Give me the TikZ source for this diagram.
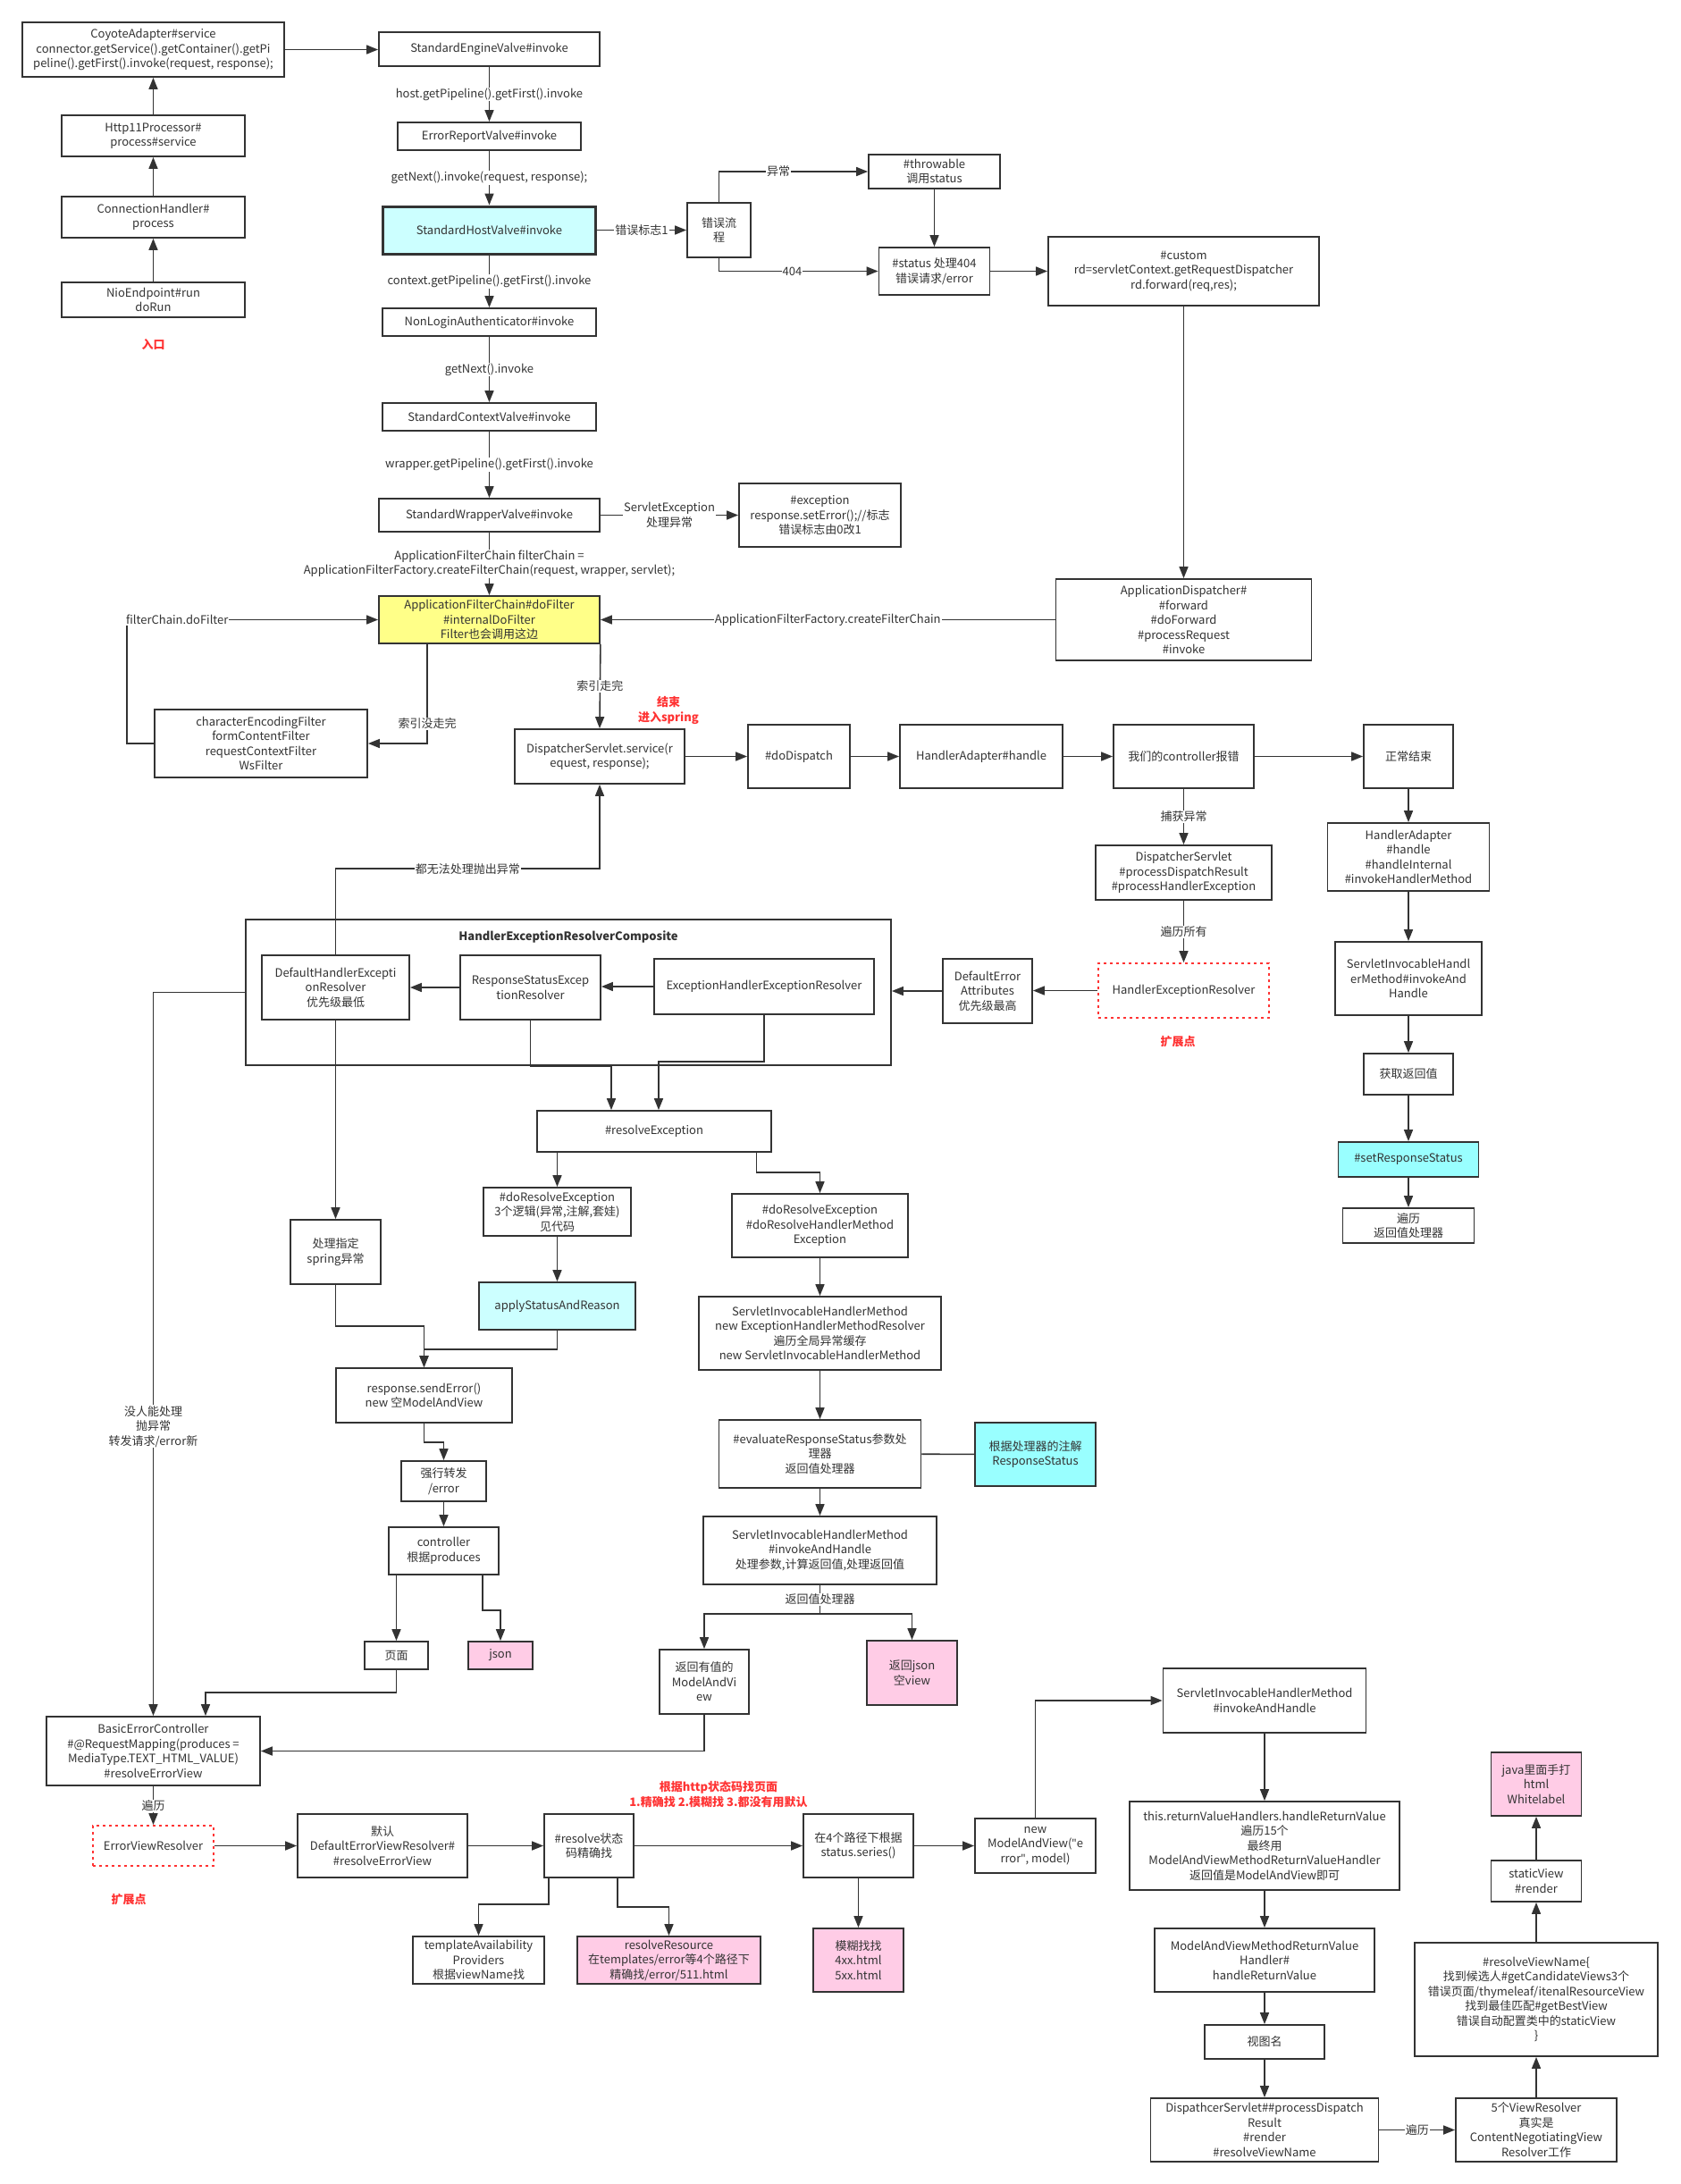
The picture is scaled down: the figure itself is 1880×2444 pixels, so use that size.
\documentclass[tikz,border=0pt]{standalone}
\usepackage{fontspec}
\setmainfont{Noto Sans CJK SC}
\newfontfamily\latinfont{Noto Sans}
\usetikzlibrary{arrows.meta}
\definecolor{lncol}{HTML}{333333}
\definecolor{redcol}{HTML}{FF3333}
\definecolor{lightcyan}{HTML}{CCFFFF}
\definecolor{brightcyan}{HTML}{99FFFF}
\definecolor{noteyellow}{HTML}{FFFF88}
\definecolor{notepink}{HTML}{FFCCE6}
\begin{document}
\begin{tikzpicture}[x=1pt, y=-1pt,
  box/.style={draw=lncol, line width=1.8pt, fill=white, text=lncol, align=center, inner sep=1pt, font=\fontsize{13}{16.5}\selectfont},
  boxwh/.style 2 args={minimum width=#1, minimum height=#2},
  arr/.style={draw=lncol, line width=1.6pt, -{Triangle[length=13pt,width=10pt]}},
  plain/.style={draw=lncol, line width=1.6pt},
  lbl/.style={fill=white, text=lncol, align=center, inner sep=1pt, font=\fontsize{13}{16.5}\selectfont},
  redlbl/.style={text=redcol, align=center, font=\bfseries\fontsize{13}{16.5}\selectfont},
  extbox/.style={box, draw=redcol, dash pattern=on 3pt off 4pt}]

     % page
     \fill[white] (0,0) rectangle (1880,2444);

     % entry (tomcat)
     \node[box, boxwh={293}{61}] (coyote) at (171.5,55.5) {CoyoteAdapter\#service\\connector.getService().getContainer().getPi\\peline().getFirst().invoke(request, response);};
     \node[box, boxwh={205}{46}] (http) at (171.5,152) {Http11Processor\#\\process\#service};
     \node[box, boxwh={205}{46}] (conn) at (171.5,243) {ConnectionHandler\#\\process};
     \node[box, boxwh={205}{39}] (nio) at (171.5,335.5) {NioEndpoint\#run\\doRun};
     \node[redlbl] (entry) at (171.5,385) {入口};
     \draw[arr] (nio) -- (conn);
     \draw[arr] (conn) -- (http);
     \draw[arr] (http) -- (coyote);

     % valves
     \node[box, boxwh={247}{38}] (engine) at (547.5,55) {StandardEngineValve\#invoke};
     \node[box, boxwh={205}{31}] (errrep) at (547.5,152.5) {ErrorReportValve\#invoke};
     \node[box, boxwh={238}{53}, fill=lightcyan, line width=3pt] (host) at (547.5,257.5) {StandardHostValve\#invoke};
     \node[box, boxwh={239}{31}] (nonlogin) at (547.5,360.5) {NonLoginAuthenticator\#invoke};
     \node[box, boxwh={239}{31}] (context) at (547.5,466.5) {StandardContextValve\#invoke};
     \node[box, boxwh={247}{37}] (wrapper) at (547.5,576.5) {StandardWrapperValve\#invoke};
     \draw[arr] (coyote.east) -- (coyote.east -| engine.west);
     \draw[arr] (engine) -- node[lbl] {host.getPipeline().getFirst().invoke} (errrep);
     \draw[arr] (errrep) -- node[lbl] {getNext().invoke(request, response);} (host);
     \draw[arr] (host) -- node[lbl] {context.getPipeline().getFirst().invoke} (nonlogin);
     \draw[arr] (nonlogin) -- node[lbl] {getNext().invoke} (context);
     \draw[arr] (context) -- node[lbl] {wrapper.getPipeline().getFirst().invoke} (wrapper);

     % error flow
     \node[box, boxwh={71}{61}] (errflow) at (804.5,257.5) {错误流\\程};
     \node[box, boxwh={147}{38}] (throwable) at (1045.5,192) {\#throwable\\调用status};
     \node[box, boxwh={124}{53}] (status) at (1045.5,303.5) {\#status 处理404\\错误请求/error};
     \node[box, boxwh={303}{77}] (custom) at (1324.5,303.5) {\#custom\\rd=servletContext.getRequestDispatcher\\rd.forward(req,res);};
     \node[box, boxwh={181}{71}] (exception) at (917.5,576.5) {\#exception\\response.setError();//标志\\错误标志由0改1};
     \draw[arr] (host) -- node[lbl] {错误标志1} (errflow);
     \draw[arr] (errflow.north) |- node[lbl, pos=0.7] {异常} (throwable.west);
     \draw[arr] (errflow.south) |- node[lbl, pos=0.73] {404} (status.west);
     \draw[arr] (throwable) -- (status);
     \draw[arr] (status) -- (custom);
     \draw[arr] (wrapper) -- node[lbl] {ServletException\\处理异常} (exception);

     % filter chain
     \node[box, boxwh={247}{53}, fill=noteyellow] (afc) at (547.5,693.5) {ApplicationFilterChain\#doFilter\\\#internalDoFilter\\Filter也会调用这边};
     \node[box, boxwh={286}{91}] (appdisp) at (1324.5,693.5) {ApplicationDispatcher\#\\\#forward\\\#doForward\\\#processRequest\\\#invoke};
     \node[box, boxwh={238}{76}] (filters) at (292,832) {characterEncodingFilter\\formContentFilter\\requestContextFilter\\WsFilter};
     \draw[arr] (wrapper) -- node[lbl] {ApplicationFilterChain filterChain =\\ApplicationFilterFactory.createFilterChain(request, wrapper, servlet);} (afc);
     \draw[arr] (custom) -- (appdisp);
     \draw[arr] (appdisp) -- node[lbl] {ApplicationFilterFactory.createFilterChain} (afc);
     \draw[arr] ([xshift=-69.5]afc.south) |- node[lbl, pos=0.4] {索引没走完} (filters.east);
     \draw[arr] (filters.west) -- ++(-30,0) |- node[lbl, pos=0.6] {filterChain.doFilter} (afc.west);

     % spring dispatch
     \node[box, boxwh={190}{61}] (dispatcher) at (671,846.5) {DispatcherServlet.service(r\\equest, response);};
     \node[redlbl] (springstart) at (748,795) {结束\\进入spring};
     \node[box, boxwh={114}{71}] (dodispatch) at (894,846.5) {\#doDispatch};
     \node[box, boxwh={182}{71}] (hahandle) at (1098,846.5) {HandlerAdapter\#handle};
     \node[box, boxwh={157}{71}] (ctrlerr) at (1324.5,846.5) {我们的controller报错};
     \node[box, boxwh={100}{71}] (normalend) at (1576,846.5) {正常结束};
     \draw[arr] (afc.south east) -- node[lbl] {索引走完} (dispatcher.north);
     \draw[arr] (dispatcher) -- (dodispatch);
     \draw[arr] (dodispatch) -- (hahandle);
     \draw[arr] (hahandle) -- (ctrlerr);
     \draw[arr] (ctrlerr) -- (normalend);

     % normal return
     \node[box, boxwh={181}{76}] (hainternal) at (1576,959) {HandlerAdapter\\\#handle\\\#handleInternal\\\#invokeHandlerMethod};
     \node[box, boxwh={164}{82}] (sihmone) at (1576,1095) {ServletInvocableHandl\\erMethod\#invokeAnd\\Handle};
     \node[box, boxwh={100}{46}] (getret) at (1576,1202) {获取返回值};
     \node[box, boxwh={157}{39}, fill=brightcyan] (setstatus) at (1576,1297.5) {\#setResponseStatus};
     \node[box, boxwh={147}{39}] (traverse) at (1576,1371.5) {遍历\\返回值处理器};
     \draw[arr] (normalend) -- (hainternal);
     \draw[arr] (hainternal) -- (sihmone);
     \draw[arr] (sihmone) -- (getret);
     \draw[arr] (getret) -- (setstatus);
     \draw[arr] (setstatus) -- (traverse);

     % exception resolvers
     \node[box, boxwh={197}{61}] (dsresult) at (1324.5,976.5) {DispatcherServlet\\\#processDispatchResult\\\#processHandlerException};
     \node[extbox, boxwh={191}{61}] (her) at (1324.5,1108.5) {HandlerExceptionResolver};
     \node[redlbl] (extone) at (1318,1166) {扩展点};
     \node[box, boxwh={100}{72}] (dea) at (1105,1109) {DefaultError\\Attributes\\优先级最高};
     \node[box, boxwh={722}{163}] (composite) at (636,1110.5) {};
     \node[text=lncol, font=\bfseries\fontsize{13}{16.5}\selectfont] (compositetitle) at (636,1048) {HandlerExceptionResolverComposite};
     \node[box, boxwh={246}{62}] (eher) at (855,1104) {ExceptionHandlerExceptionResolver};
     \node[box, boxwh={157}{72}] (rs) at (593.5,1105) {ResponseStatusExcep\\tionResolver};
     \node[box, boxwh={165}{72}] (dher) at (375.5,1105) {DefaultHandlerExcepti\\onResolver\\优先级最低};
     \draw[arr] (ctrlerr) -- node[lbl] {捕获异常} (dsresult);
     \draw[arr] (dsresult) -- node[lbl] {遍历所有} (her);
     \draw[arr] (her.west) -- (her.west -| dea.east);
     \draw[arr] (dea.west) -- (dea.west -| composite.east);
     \draw[arr] (eher.west) -- (eher.west -| rs.east);
     \draw[arr] (rs) -- (dher);
     \draw[arr] (dher.north) -- ++(0,-96) -| node[lbl, pos=0.25] {都无法处理抛出异常} (dispatcher.south);

     % resolveException
     \node[box, boxwh={262}{46}] (resolveex) at (732,1266) {\#resolveException};
     \node[box, boxwh={165}{54}] (doresolve) at (623.5,1356) {\#doResolveException\\3个逻辑(异常,注解,套娃)\\见代码};
     \node[box, boxwh={175}{53}, fill=lightcyan] (apply) at (623.5,1461.5) {applyStatusAndReason};
     \node[box, boxwh={197}{71}] (dorhm) at (917.5,1371.5) {\#doResolveException\\\#doResolveHandlerMethod\\Exception};
     \node[box, boxwh={271}{82}] (sihmnew) at (917.5,1492) {ServletInvocableHandlerMethod\\new ExceptionHandlerMethodResolver\\遍历全局异常缓存\\new ServletInvocableHandlerMethod};
     \node[box, boxwh={226}{76}] (evalstatus) at (917.5,1627) {\#evaluateResponseStatus参数处\\理器\\返回值处理器};
     \node[box, boxwh={135}{71}, fill=brightcyan] (annot) at (1158.5,1627.5) {根据处理器的注解\\ResponseStatus};
     \node[box, boxwh={261}{76}] (sihminvoke) at (917.5,1735) {ServletInvocableHandlerMethod\\\#invokeAndHandle\\处理参数,计算返回值,处理返回值};
     \node[box, boxwh={100}{72}] (retmav) at (788,1882) {返回有值的\\ModelAndVi\\ew};
     \node[box, boxwh={101}{72}, fill=notepink] (retjson) at (1020.5,1872) {返回json\\空view};
     \draw[arr] (rs.south) -- (rs.south |- composite.south) -| ([xshift=-48]resolveex.north);
     \draw[arr] (eher.south) -- ++(0,52) -| ([xshift=5]resolveex.north);
     \draw[arr] (resolveex.south -| doresolve.north) -- (doresolve.north);
     \draw[arr] ([xshift=114.5]resolveex.south) -- ++(0,22) -| (dorhm.north);
     \draw[arr] (doresolve) -- (apply);
     \draw[arr] (dorhm) -- (sihmnew);
     \draw[arr] (sihmnew) -- (evalstatus);
     \draw[plain] (evalstatus) -- (annot);
     \draw[arr] (evalstatus) -- (sihminvoke);
     \draw[plain] (sihminvoke.south) -- node[lbl] {返回值处理器} ++(0,32) coordinate (retsplit);
     \draw[arr] (retsplit) -| (retmav.north);
     \draw[arr] (retsplit) -| (retjson.north);

     % spring error handling
     \node[box, boxwh={101}{72}] (springex) at (375.5,1401) {处理指定\\spring异常};
     \node[box, boxwh={197}{61}] (senderr) at (474.5,1561.5) {response.sendError()\\new 空ModelAndView};
     \node[box, boxwh={95}{45}] (forward) at (496.5,1657.5) {强行转发\\/error};
     \node[box, boxwh={123}{53}] (produces) at (496.5,1735.5) {controller\\根据produces};
     \node[box, boxwh={71}{31}] (page) at (443.5,1852.5) {页面};
     \node[box, boxwh={72}{31}, fill=notepink] (json) at (560,1852.5) {json};
     \draw[arr] (dher) -- (springex);
     \draw[arr] (springex.south) -- ++(0,46) -| (senderr.north);
     \draw[arr] (apply.south) -- ++(0,21) -| (senderr.north);
     \draw[arr] (senderr.south) -- ++(0,21) -| (forward.north);
     \draw[arr] (forward) -- (produces);
     \draw[arr] (produces.south -| page.north) -- (page.north);
     \draw[arr] ([xshift=43.5]produces.south) -- ++(0,39) -| (json.north);

     % error view
     \node[box, boxwh={239}{77}] (bec) at (171.5,1959.5) {BasicErrorController\\\#@RequestMapping(produces =\\MediaType.TEXT\_HTML\_VALUE)\\\#resolveErrorView};
     \node[extbox, boxwh={135}{45}] (evr) at (171.5,2065.5) {ErrorViewResolver};
     \node[redlbl] (exttwo) at (144,2126) {扩展点};
     \node[box, boxwh={190}{71}] (derv) at (428,2065.5) {默认\\DefaultErrorViewResolver\#\\\#resolveErrorView};
     \node[box, boxwh={100}{71}] (resolvecode) at (659,2065.5) {\#resolve状态\\码精确找};
     \node[redlbl] (findpage) at (804,2008) {根据http状态码找页面\\1.精确找 2.模糊找 3.都没有用默认};
     \node[box, boxwh={123}{71}] (series) at (960.5,2065.5) {在4个路径下根据\\status.series()};
     \node[box, boxwh={135}{61}] (newmav) at (1158.5,2065.5) {new\\ModelAndView({\latinfont"}e\\rror{\latinfont"}, model)};
     \node[box, boxwh={101}{71}, fill=notepink] (fuzzy) at (960.5,2193.5) {模糊找找\\4xx.html\\5xx.html};
     \node[box, boxwh={205}{53}, fill=notepink] (resres) at (748.5,2193.5) {resolveResource\\在templates/error等4个路径下\\精确找/error/511.html};
     \node[box, boxwh={147}{53}] (template) at (535.5,2193.5) {templateAvailability\\Providers\\根据viewName找};
     \draw[arr] (composite.west) -| node[lbl, pos=0.8] {没人能处理\\抛异常\\转发请求/error新} (bec.north);
     \draw[arr] (page.south) -- ++(0,25) -| ([xshift=58.5]bec.north);
     \draw[arr] (retmav.south) |- (bec.east);
     \draw[arr] (bec) -- node[lbl] {遍历} (evr);
     \draw[arr] (evr) -- (derv);
     \draw[arr] (derv) -- (resolvecode);
     \draw[arr] (resolvecode) -- (series);
     \draw[arr] (series) -- (newmav);
     \draw[arr] (series) -- (fuzzy);
     \draw[arr] ([xshift=-45]resolvecode.south) -- ++(0,29) -| (template.north);
     \draw[arr] ([xshift=32]resolvecode.south) -- ++(0,32) -| (resres.north);

     % render
     \node[box, boxwh={227}{72}] (sihmtwo) at (1415,1903) {ServletInvocableHandlerMethod\\\#invokeAndHandle};
     \node[box, boxwh={302}{99}] (rvh) at (1415,2065.5) {this.returnValueHandlers.handleReturnValue\\遍历15个\\最终用\\ModelAndViewMethodReturnValueHandler\\返回值是ModelAndView即可};
     \node[box, boxwh={246}{71}] (mavh) at (1415,2193.5) {ModelAndViewMethodReturnValue\\Handler\#\\handleReturnValue};
     \node[box, boxwh={134}{38}] (viewname) at (1415,2285) {视图名};
     \node[box, boxwh={255}{71}] (dsrender) at (1415,2383.5) {DispathcerServlet\#\#processDispatch\\Result\\\#render\\\#resolveViewName};
     \node[box, boxwh={180}{71}] (vrfive) at (1719,2383.5) {5个ViewResolver\\真实是\\ContentNegotiatingView\\Resolver工作};
     \node[box, boxwh={272}{127}] (rvn) at (1719,2237.5) {\#resolveViewName\{\\找到候选人\#getCandidateViews3个\\错误页面/thymeleaf/itenalResourceView\\找到最佳匹配\#getBestView\\错误自动配置类中的staticView\\\}};
     \node[box, boxwh={101}{46}] (staticview) at (1719,2105) {staticView\\\#render};
     \node[box, boxwh={101}{71}, fill=notepink] (whitelabel) at (1719,1996.5) {java里面手打\\html\\Whitelabel};
     \draw[arr] (newmav.north) |- (sihmtwo.west);
     \draw[arr] (sihmtwo) -- (rvh);
     \draw[arr] (rvh) -- (mavh);
     \draw[arr] (mavh) -- (viewname);
     \draw[arr] (viewname) -- (dsrender);
     \draw[arr] (dsrender) -- node[lbl] {遍历} (vrfive);
     \draw[arr] (vrfive) -- (rvn);
     \draw[arr] (rvn) -- (staticview);
     \draw[arr] (staticview) -- (whitelabel);

\end{tikzpicture}
\end{document}
